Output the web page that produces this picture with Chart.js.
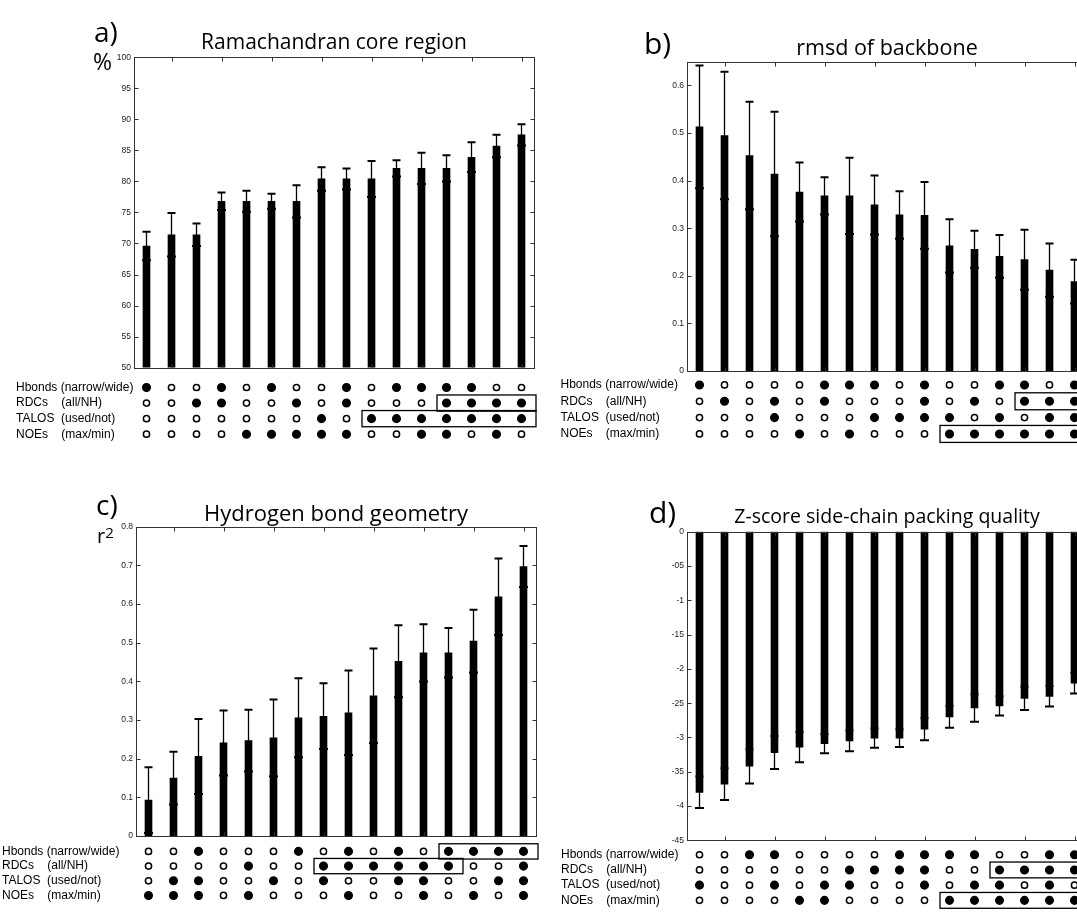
<!DOCTYPE html>
<html>
<head>
<meta charset="utf-8">
<script src="https://cdn.jsdelivr.net/npm/chart.js@4.4.1/dist/chart.umd.min.js"></script>
<style>
  html, body { margin: 0; padding: 0; background: #fff; overflow: hidden; }
  #page { position: relative; width: 1077px; height: 916px; overflow: hidden; background: #fff; }
  canvas { position: absolute; }
  .txt { position: absolute; white-space: nowrap; font-family: "Open Sans", sans-serif; color: #000; line-height: 1; }
  .title { text-align: center; width: 400px; }
</style>
</head>
<body>
<div id="page">
  <canvas id="rama" width="540" height="458" style="left:0px; top:0px;"></canvas>
  <canvas id="rmsd" width="560" height="458" style="left:540px; top:0px;"></canvas>
  <canvas id="hbond" width="540" height="458" style="left:0px; top:458px;"></canvas>
  <canvas id="zscore" width="560" height="458" style="left:540px; top:458px;"></canvas>

  <div class="txt" style="left:94px; top:16.6px; font-size:28px;">a)</div>
  <div class="txt" style="left:644px; top:28.4px; font-size:30px;">b)</div>
  <div class="txt" style="left:96px; top:490px; font-size:28px;">c)</div>
  <div class="txt" style="left:649px; top:497px; font-size:30px;">d)</div>

  <div class="txt title" style="left:134px; top:31.4px; font-size:21px;">Ramachandran core region</div>
  <div class="txt title" style="left:687px; top:35.9px; font-size:21.5px;">rmsd of backbone</div>
  <div class="txt title" style="left:136px; top:500.5px; font-size:22px;">Hydrogen bond geometry</div>
  <div class="txt title" style="left:687px; top:506px; font-size:19.5px;">Z-score side-chain packing quality</div>

  <div class="txt" style="left:93px; top:49.6px; font-size:23px;">%</div>
  <div class="txt" style="left:97px; top:525.7px; font-size:20px;">r<span style="font-size:15px; position:relative; top:-5px;">2</span></div>
</div>
<script>
const bars = ['1', '2', '3', '4', '5', '6', '7', '8', '9', '10', '11', '12', '13', '14', '15', '16']
const rowLabels = ['Hbonds (narrow/wide)', 'RDCs    (all/NH)', 'TALOS  (used/not)', 'NOEs    (max/min)']

// a) Ramachandran core region (%)
const ramaValues = [69.6, 71.4, 71.4, 76.8, 76.8, 76.8, 76.8, 80.4, 80.4, 80.4, 82.1, 82.1, 82.1, 83.9, 85.7, 87.5]
const ramaErrors = [2.3, 3.5, 1.8, 1.4, 1.7, 1.2, 2.6, 1.9, 1.7, 2.9, 1.3, 2.5, 2.1, 2.4, 1.8, 1.7]
const ramaTicks = [50, 55, 60, 65, 70, 75, 80, 85, 90, 95, 100]
const ramaHbonds = [1, 0, 0, 1, 0, 1, 0, 0, 1, 0, 1, 1, 1, 1, 0, 0]
const ramaRdcs = [0, 0, 1, 1, 0, 0, 1, 0, 1, 0, 0, 0, 1, 1, 1, 1]
const ramaTalos = [0, 0, 0, 0, 0, 0, 0, 1, 0, 1, 1, 1, 1, 1, 1, 1]
const ramaNoes = [0, 0, 0, 0, 1, 1, 1, 1, 1, 0, 0, 1, 1, 0, 1, 0]
const ramaBoxes = [{row: 1, from: 12, to: 15}, {row: 2, from: 9, to: 15}]

// b) rmsd of backbone
const rmsdValues = [0.513, 0.495, 0.453, 0.414, 0.376, 0.368, 0.368, 0.349, 0.328, 0.327, 0.263, 0.256, 0.241, 0.234, 0.212, 0.188]
const rmsdErrors = [0.129, 0.134, 0.113, 0.131, 0.062, 0.039, 0.080, 0.062, 0.050, 0.070, 0.056, 0.039, 0.045, 0.063, 0.056, 0.046]
const rmsdTicks = [0, 0.1, 0.2, 0.3, 0.4, 0.5, 0.6]
const rmsdHbonds = [1, 0, 0, 0, 0, 1, 1, 1, 0, 1, 0, 0, 1, 1, 0, 1]
const rmsdRdcs = [0, 1, 0, 1, 0, 1, 0, 0, 0, 1, 0, 1, 0, 1, 1, 1]
const rmsdTalos = [0, 0, 0, 1, 0, 0, 0, 1, 1, 1, 1, 0, 1, 0, 1, 1]
const rmsdNoes = [0, 0, 0, 0, 1, 0, 1, 0, 0, 0, 1, 1, 1, 1, 1, 1]
const rmsdBoxes = [{row: 1, from: 13, to: 15}, {row: 3, from: 10, to: 15}]

// c) hydrogen bond geometry (r2)
const hbondValues = [0.093, 0.150, 0.206, 0.241, 0.247, 0.254, 0.306, 0.310, 0.319, 0.363, 0.452, 0.474, 0.474, 0.504, 0.619, 0.697]
const hbondErrors = [0.085, 0.068, 0.097, 0.084, 0.080, 0.099, 0.102, 0.085, 0.109, 0.122, 0.093, 0.074, 0.064, 0.081, 0.099, 0.053]
const hbondTicks = [0, 0.1, 0.2, 0.3, 0.4, 0.5, 0.6, 0.7, 0.8]
const hbondHbonds = [0, 0, 1, 0, 0, 0, 1, 0, 1, 0, 1, 0, 1, 1, 1, 1]
const hbondRdcs = [0, 0, 0, 0, 1, 0, 0, 1, 1, 1, 1, 1, 1, 0, 0, 1]
const hbondTalos = [0, 1, 1, 0, 0, 1, 0, 1, 0, 0, 1, 1, 0, 0, 1, 1]
const hbondNoes = [1, 1, 1, 0, 1, 0, 0, 0, 1, 0, 0, 1, 0, 1, 0, 1]
const hbondBoxes = [{row: 0, from: 12, to: 15}, {row: 1, from: 7, to: 12}]

// d) Z-score side-chain packing quality
const zValues = [-3.80, -3.68, -3.42, -3.22, -3.14, -3.09, -3.05, -3.01, -3.01, -2.88, -2.70, -2.57, -2.54, -2.43, -2.40, -2.21]
const zErrors = [0.23, 0.23, 0.25, 0.24, 0.22, 0.14, 0.15, 0.14, 0.13, 0.16, 0.16, 0.20, 0.14, 0.17, 0.15, 0.15]
const zTicks = [-4.5, -4, -3.5, -3, -2.5, -2, -1.5, -1, -0.5, 0]
const zTickLabels = ['-45', '-4', '-35', '-3', '-25', '-2', '-15', '-1', '-05', '0']
const zHbonds = [0, 0, 1, 1, 0, 0, 0, 0, 1, 1, 1, 1, 0, 0, 1, 1]
const zRdcs = [0, 0, 0, 0, 0, 0, 1, 1, 1, 1, 0, 0, 1, 1, 1, 1]
const zTalos = [1, 0, 0, 1, 0, 1, 1, 0, 0, 1, 0, 1, 1, 0, 1, 0]
const zNoes = [0, 0, 0, 0, 1, 1, 0, 0, 0, 0, 1, 1, 1, 1, 1, 1]
const zBoxes = [{row: 1, from: 12, to: 15}, {row: 3, from: 10, to: 15}]

Chart.defaults.font.family = '"Liberation Sans", Arial, sans-serif'
Chart.defaults.color = '#222'

function makePanel (p) {
    const canvas = document.getElementById(p.id)
    const colW = p.plotLeft - p.labelLeft
    const rowStep = (p.rowY[3] - p.rowY[0]) / 3
    const bottom = p.top + p.height

    const datasets = [{
        type: 'bar',
        data: p.values,
        errors: p.errors,
        base: p.base,
        backgroundColor: '#000',
        barThickness: 7,
        yAxisID: 'y'
    }]
    p.rows.forEach((states, k) => {
        datasets.push({
            type: 'line',
            data: states.map(() => k + 1),
            yAxisID: 'yr',
            showLine: false,
            pointRadius: states.map(s => s ? 3.8 : 3.1),
            pointBackgroundColor: states.map(s => s ? '#000' : '#fff'),
            pointBorderColor: '#000',
            pointBorderWidth: 1.5
        })
    })

    // thin error bar, outer cap and the lower mark that shows over the bar
    const errorBars = {
        id: 'errorBars',
        afterDatasetsDraw (chart) {
            const ctx = chart.ctx
            const y = chart.scales.y
            const ds = chart.data.datasets[0]
            ctx.save()
            ctx.strokeStyle = '#000'
            chart.getDatasetMeta(0).data.forEach((bar, i) => {
                const hi = y.getPixelForValue(ds.data[i] + ds.errors[i])
                const lo = y.getPixelForValue(ds.data[i] - ds.errors[i])
                ctx.lineWidth = 1.3
                ctx.beginPath()
                ctx.moveTo(bar.x, hi)
                ctx.lineTo(bar.x, lo)
                ctx.stroke()
                ctx.lineWidth = 2
                ctx.beginPath()
                ctx.moveTo(bar.x - 4, hi)
                ctx.lineTo(bar.x + 4, hi)
                ctx.moveTo(bar.x - 4.5, lo)
                ctx.lineTo(bar.x + 4.5, lo)
                ctx.stroke()
            })
            ctx.restore()
        }
    }

    // matlab style box with inward ticks
    const frame = {
        id: 'frame',
        afterDatasetsDraw (chart) {
            const {ctx, scales: {x, y}} = chart
            const l = Math.round(x.left) + 0.5
            const r = Math.round(x.right) + 0.5
            const t = Math.round(y.top) + 0.5
            const b = Math.round(y.bottom) + 0.5
            ctx.save()
            ctx.strokeStyle = '#333'
            ctx.lineWidth = 1
            ctx.strokeRect(l, t, r - l, b - t)
            ctx.beginPath()
            y.ticks.forEach(tk => {
                const py = Math.round(y.getPixelForValue(tk.value)) + 0.5
                ctx.moveTo(l, py)
                ctx.lineTo(l + 4, py)
                ctx.moveTo(r, py)
                ctx.lineTo(r - 4, py)
            })
            for (let i = 1; i < chart.data.labels.length; i += 2) {
                const px = Math.round(x.getPixelForValue(i)) + 0.5
                ctx.moveTo(px, t)
                ctx.lineTo(px, t + 4)
                ctx.moveTo(px, b)
                ctx.lineTo(px, b - 4)
            }
            ctx.stroke()
            ctx.restore()
        }
    }

    const rowBoxes = {
        id: 'rowBoxes',
        afterDatasetsDraw (chart) {
            const {ctx, scales: {x, yr}} = chart
            ctx.save()
            ctx.strokeStyle = '#000'
            ctx.lineWidth = 1.3
            p.boxes.forEach(bx => {
                const l = x.getPixelForValue(bx.from - 0.38)
                const r = x.getPixelForValue(bx.to + 0.58)
                const t = yr.getPixelForValue(bx.row + 0.48)
                const b = yr.getPixelForValue(bx.row + 1.52)
                ctx.strokeRect(l, t, r - l, b - t)
            })
            ctx.restore()
        }
    }

    new Chart(canvas, {
        type: 'bar',
        data: { labels: bars, datasets: datasets },
        plugins: [errorBars, frame, rowBoxes],
        options: {
            responsive: false,
            animation: false,
            devicePixelRatio: 1,
            events: [],
            layout: {
                autoPadding: false,
                padding: {
                    left: p.labelLeft - p.left,
                    right: p.left + p.width - p.plotRight,
                    top: p.plotTop - p.top,
                    bottom: 0
                }
            },
            plugins: {
                legend: { display: false },
                tooltip: { enabled: false },
                title: { display: false }
            },
            scales: {
                x: { type: 'category', display: false, offset: true },
                y: {
                    type: 'linear',
                    position: 'left',
                    stack: 'panel',
                    stackWeight: p.plotBottom - p.plotTop,
                    weight: 2,
                    min: p.yMin,
                    max: p.yMax,
                    afterBuildTicks: s => { s.ticks = p.ticks.map(v => ({value: v})) },
                    afterFit: s => { s.width = colW },
                    ticks: {
                        autoSkip: false,
                        padding: 3,
                        color: '#222',
                        font: { size: 8.5 },
                        callback: (v, i) => p.tickLabels ? p.tickLabels[i] : String(p.ticks[i])
                    },
                    grid: { display: false, drawTicks: false },
                    border: { display: false }
                },
                yr: {
                    type: 'linear',
                    position: 'left',
                    stack: 'panel',
                    stackWeight: bottom - p.plotBottom,
                    weight: 1,
                    reverse: true,
                    min: 1 - (p.rowY[0] - p.plotBottom) / rowStep,
                    max: 4 + (bottom - p.rowY[3]) / rowStep,
                    afterBuildTicks: s => { s.ticks = rowLabels.map((_, k) => ({value: k + 1})) },
                    afterFit: s => { s.width = colW },
                    ticks: {
                        autoSkip: false,
                        crossAlign: 'far',
                        padding: 0,
                        color: '#000',
                        font: { size: 12 },
                        callback: (v, i) => rowLabels[i]
                    },
                    grid: { display: false, drawTicks: false },
                    border: { display: false }
                }
            }
        }
    })
}

makePanel({
    id: 'rama', left: 0, top: 0, width: 540, height: 458,
    labelLeft: 16, plotLeft: 134, plotRight: 534, plotTop: 57.3, plotBottom: 374,
    rowY: [394.3, 410, 426, 442],
    yMin: 50, yMax: 100, base: 50, ticks: ramaTicks,
    values: ramaValues, errors: ramaErrors,
    rows: [ramaHbonds, ramaRdcs, ramaTalos, ramaNoes], boxes: ramaBoxes
})

makePanel({
    id: 'rmsd', left: 540, top: 0, width: 560, height: 458,
    labelLeft: 560.5, plotLeft: 687, plotRight: 1087, plotTop: 61.7, plotBottom: 377.5,
    rowY: [391.7, 408.3, 425, 441.7],
    yMin: 0, yMax: 0.65, base: 0, ticks: rmsdTicks,
    values: rmsdValues, errors: rmsdErrors,
    rows: [rmsdHbonds, rmsdRdcs, rmsdTalos, rmsdNoes], boxes: rmsdBoxes
})

makePanel({
    id: 'hbond', left: 0, top: 458, width: 540, height: 458,
    labelLeft: 2, plotLeft: 136, plotRight: 536, plotTop: 526.7, plotBottom: 842.7,
    rowY: [858.3, 873.3, 888.3, 903.3],
    yMin: 0, yMax: 0.8, base: 0, ticks: hbondTicks,
    values: hbondValues, errors: hbondErrors,
    rows: [hbondHbonds, hbondRdcs, hbondTalos, hbondNoes], boxes: hbondBoxes
})

makePanel({
    id: 'zscore', left: 540, top: 458, width: 560, height: 458,
    labelLeft: 561, plotLeft: 687, plotRight: 1087, plotTop: 531.7, plotBottom: 847,
    rowY: [861.7, 876.7, 892.7, 908.3],
    yMin: -4.5, yMax: 0, base: 0, ticks: zTicks, tickLabels: zTickLabels,
    values: zValues, errors: zErrors,
    rows: [zHbonds, zRdcs, zTalos, zNoes], boxes: zBoxes
})
</script>
</body>
</html>
